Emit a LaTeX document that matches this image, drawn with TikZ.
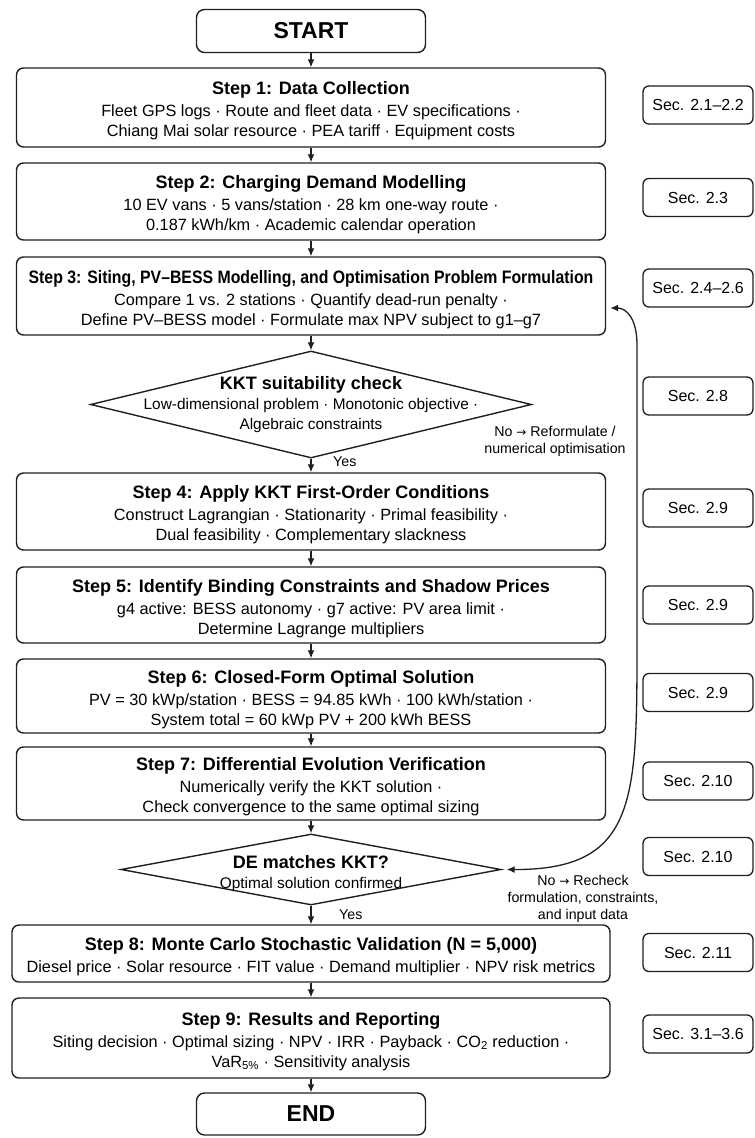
\documentclass[tikz,border=0pt]{standalone}
\usepackage{graphicx}
\usepackage{fontspec}
\setmainfont{Liberation Sans}
\newfontfamily\arrowfont{DejaVu Sans}
\usetikzlibrary{arrows.meta,shapes.geometric}

\newcommand{\steptitle}[1]{{\bfseries\fontsize{18}{20}\selectfont\rule{0pt}{19.5pt}#1}\\[2pt]}
\newcommand{\dectitle}[1]{{\bfseries\fontsize{18}{20}\selectfont #1}\\}
\newcommand{\toarrow}{{\arrowfont\fontsize{12}{17}\selectfont →}}

\begin{document}
\begin{tikzpicture}[x=1pt, y=-1pt,
  stepbox/.style={draw=black!88, line width=1.4pt, rounded corners=7pt, align=center,
    minimum width=589pt, minimum height=76pt, inner sep=2pt, font=\fontsize{16.3}{20}\selectfont},
  endbox/.style={draw=black!88, line width=1.4pt, rounded corners=8pt, minimum width=229pt,
    minimum height=43pt, font=\bfseries\fontsize{23}{25}\selectfont},
  decision/.style={draw=black!88, line width=1.4pt, diamond, inner sep=0pt},
  dtext/.style={align=center, font=\fontsize{15.4}{20}\selectfont},
  secbox/.style={draw=black!88, line width=1.3pt, rounded corners=6pt, minimum width=110pt,
    minimum height=38pt, font=\fontsize{16}{18}\selectfont},
  note/.style={align=center, inner sep=1pt, font=\fontsize{14.2}{17}\selectfont},
  flow/.style={draw=black!88, line width=1.3pt, -{Latex[length=8pt,width=7pt]}}]
\useasboundingbox (0,0) rectangle (755,1138);
\node[endbox] (start) at (311,31) {START};
\node[stepbox, minimum height=79pt] (s1) at (311,107.5) {\steptitle{Step 1: Data Collection}Fleet GPS logs · Route and fleet data · EV specifications ·\\Chiang Mai solar resource · PEA tariff · Equipment costs};
\node[stepbox, minimum height=77pt] (s2) at (311,201.5) {\steptitle{Step 2: Charging Demand Modelling}10 EV vans · 5 vans/station · 28 km one-way route ·\\0.187 kWh/km · Academic calendar operation};
\node[stepbox, minimum height=78pt] (s3) at (311,296) {\steptitle{\scalebox{0.88}[1]{Step 3: Siting, PV–BESS Modelling, and Optimisation Problem Formulation}}Compare 1 vs. 2 stations · Quantify dead-run penalty ·\\Define PV–BESS model · Formulate max NPV subject to g1–g7};
\node[decision, minimum width=441pt, minimum height=107pt] (kkt) at (311,404.5) {};
\node[dtext] (kkttext) at (311,405) {\dectitle{KKT suitability check}Low-dimensional problem · Monotonic objective ·\\Algebraic constraints};
\node[stepbox, minimum height=77pt] (s4) at (311,511.5) {\steptitle{Step 4: Apply KKT First-Order Conditions}Construct Lagrangian · Stationarity · Primal feasibility ·\\Dual feasibility · Complementary slackness};
\node[stepbox, minimum height=76pt] (s5) at (311,605) {\steptitle{Step 5: Identify Binding Constraints and Shadow Prices}g4 active: BESS autonomy · g7 active: PV area limit ·\\Determine Lagrange multipliers};
\node[stepbox, minimum height=74pt] (s6) at (311,696) {\steptitle{Step 6: Closed-Form Optimal Solution}PV = 30 kWp/station · BESS = 94.85 kWh · 100 kWh/station ·\\System total = 60 kWp PV + 200 kWh BESS};
\node[stepbox, minimum height=73pt] (s7) at (311,783.5) {\steptitle{Step 7: Differential Evolution Verification}Numerically verify the KKT solution ·\\Check convergence to the same optimal sizing};
\node[decision, minimum width=380pt, minimum height=71pt] (de) at (311,869.5) {};
\node[dtext] (detext) at (311,874) {\dectitle{DE matches KKT?}Optimal solution confirmed};
\node[stepbox, minimum width=598pt, minimum height=57pt] (s8) at (311,953.5) {\steptitle{Step 8: Monte Carlo Stochastic Validation (N = 5,000)}Diesel price · Solar resource · FIT value · Demand multiplier · NPV risk metrics};
\node[stepbox, minimum width=598pt, minimum height=80pt] (s9) at (311,1038) {\steptitle{Step 9: Results and Reporting}Siting decision · Optimal sizing · NPV · IRR · Payback · CO\textsubscript{2} reduction ·\\VaR\textsubscript{5\%} · Sensitivity analysis};
\node[endbox, minimum height=42pt] (end) at (311,1114) {END};
\node[secbox] (sec1) at (698,105) {Sec. 2.1–2.2};
\node[secbox] (sec2) at (698,197.5) {Sec. 2.3};
\node[secbox] (sec3) at (698,288) {Sec. 2.4–2.6};
\node[secbox] (sec4) at (698,396) {Sec. 2.8};
\node[secbox] (sec5) at (698,508) {Sec. 2.9};
\node[secbox] (sec6) at (698,605) {Sec. 2.9};
\node[secbox] (sec7) at (698,692.5) {Sec. 2.9};
\node[secbox] (sec8) at (698,781) {Sec. 2.10};
\node[secbox] (sec9) at (698,856.5) {Sec. 2.10};
\node[secbox] (sec10) at (698,952.5) {Sec. 2.11};
\node[secbox] (sec11) at (698,1034) {Sec. 3.1–3.6};
\node[note, anchor=west] (yes1) at (332,462) {Yes};
\node[note, anchor=west] (yes2) at (338,915) {Yes};
\node[note] (no1) at (555,441) {No \toarrow{} Reformulate /\\numerical optimisation};
\node[note] (no2) at (583,899) {No \toarrow{} Recheck\\formulation, constraints,\\and input data};
\draw[flow] (start) -- (s1);
\draw[flow] (s1) -- (s2);
\draw[flow] (s2) -- (s3);
\draw[flow] (s3) -- (kkt);
\draw[flow] (kkt) -- (s4);
\draw[flow] (s4) -- (s5);
\draw[flow] (s5) -- (s6);
\draw[flow] (s6) -- (s7);
\draw[flow] (s7) -- (de);
\draw[flow] (de) -- (s8);
\draw[flow] (s8) -- (s9);
\draw[flow] (s9) -- (end);
\draw[flow, {Latex[length=8pt,width=7pt]}-{Latex[length=8pt,width=7pt]}] ([xshift=5pt]de.east) .. controls (637,870) and (637,800) .. (637,640) -- (637,345) .. controls (637,318) and (626,308) .. ([xshift=4pt,yshift=-12pt]s3.east);
\end{tikzpicture}
\end{document}
